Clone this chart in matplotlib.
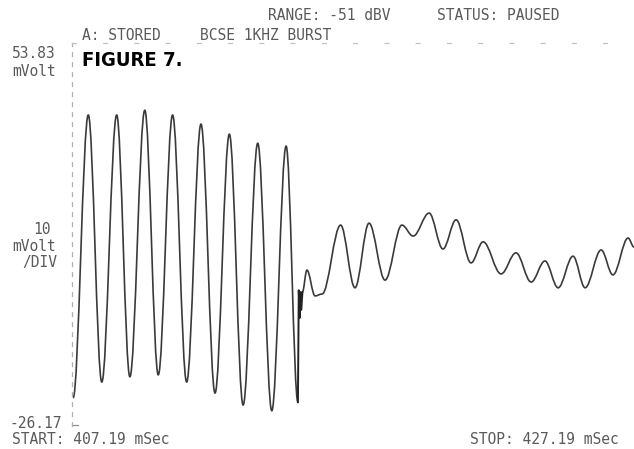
import matplotlib.pyplot as plt
from matplotlib.path import Path
from matplotlib.patches import PathPatch
from matplotlib import font_manager

# time (mSec) / level (mVolt): turning points of the burst
burst_t = [407.23, 407.77, 408.25, 408.78, 409.25, 409.78, 410.26, 410.77,
           411.27, 411.78, 412.28, 412.79, 413.28, 413.80, 414.30, 414.81, 415.23]
burst_v = [-20.3, 38.8, -17.0, 38.8, -15.9, 39.8, -15.5, 38.8,
           -17.0, 36.9, -19.3, 34.8, -21.8, 32.9, -23.0, 32.3, -21.2]

# jagged step where the burst stops
glitch_t = [415.23, 415.26, 415.29, 415.32, 415.35, 415.39]
glitch_v = [-21.2, 2.2, -3.6, 1.8, -1.9, 1.8]

# ringing after the burst
ring_t = [415.39, 415.55, 415.84, 416.09, 416.75, 417.26, 417.76, 418.33,
          418.93, 419.33, 419.90, 420.39, 420.86, 421.39, 421.82, 422.46,
          422.99, 423.53, 424.02, 424.49, 425.02, 425.45, 426.02, 426.44,
          426.98, 427.19]
ring_v = [1.8, 6.4, 1.0, 1.4, 15.8, 2.7, 16.2, 4.3,
          15.8, 13.5, 18.3, 10.8, 16.9, 7.9, 12.3, 5.6,
          10.0, 3.9, 8.3, 2.7, 9.3, 2.7, 10.6, 5.4,
          13.1, 11.2]

t_start, t_stop = 407.19, 427.19
v_low, v_high = -26.17, 53.83

TRACE = '#3a3a3a'
GREY = '#5a5a5a'


def smooth_path(t, v, k=0.36):
    # cubic segments with flat tangents at each turning point
    verts = [(t[0], v[0])]
    codes = [Path.MOVETO]
    for i in range(len(t) - 1):
        dt = t[i + 1] - t[i]
        verts += [(t[i] + k * dt, v[i]), (t[i + 1] - k * dt, v[i + 1]), (t[i + 1], v[i + 1])]
        codes += [Path.CURVE4] * 3
    return Path(verts, codes)


W, H = 634, 449
fig = plt.figure(figsize=(W / 100, H / 100), dpi=100)
ax = fig.add_axes([72 / W, 1 - 426 / H, (W - 72) / W, (426 - 43) / H])
ax.set_xlim(t_start, t_stop)
ax.set_ylim(v_low, v_high)
ax.set_xticks([])
ax.set_yticks([])
for side in ['right', 'bottom']:
    ax.spines[side].set_visible(False)
ax.spines['left'].set_linestyle((0, (3, 5)))
ax.spines['left'].set_color('#b0b0b0')
ax.spines['left'].set_linewidth(0.9)
ax.spines['top'].set_linestyle((0, (3, 22)))
ax.spines['top'].set_color('#c0c0c0')
ax.spines['top'].set_linewidth(0.9)

ax.add_patch(PathPatch(smooth_path(burst_t, burst_v), fill=False, ec=TRACE, lw=1.2, joinstyle='round'))
ax.plot(glitch_t, glitch_v, color='#222222', lw=1.4)
ax.add_patch(PathPatch(smooth_path(ring_t, ring_v), fill=False, ec=TRACE, lw=1.2, joinstyle='round'))

# small corner mark at the bottom left
ax.plot([t_start, t_start + 0.2], [v_low + 0.2, v_low + 0.2], color='#909090', lw=0.9, clip_on=False)


def label(x, y, s, **kw):
    kw.setdefault('family', 'DejaVu Sans Mono')
    kw.setdefault('color', GREY)
    kw.setdefault('fontsize', 10.5)
    fig.text(x / W, 1 - y / H, s, va='center', **kw)


label(268, 16, 'RANGE: -51 dBV')
label(437, 16, 'STATUS: PAUSED')
label(82, 35, 'A: STORED')
label(200, 35, 'BCSE 1KHZ BURST')
label(12, 53, '53.83')
label(12, 71, 'mVolt')
label(33, 229, '10')
label(12, 246, 'mVolt')
label(22, 263, '/DIV')
label(10, 423, '-26.17')
label(12, 440, 'START: 407.19 mSec')
label(470, 440, 'STOP: 427.19 mSec')

# condensed heavy caption, if a condensed face is available
fig_font = font_manager.FontProperties(family='DejaVu Sans', weight='bold', stretch='condensed', size=14.5)
fig.text(82 / W, 1 - 61 / H, 'FIGURE 7.', fontproperties=fig_font, color='black', va='center')

fig.savefig('out.png', dpi=100)
